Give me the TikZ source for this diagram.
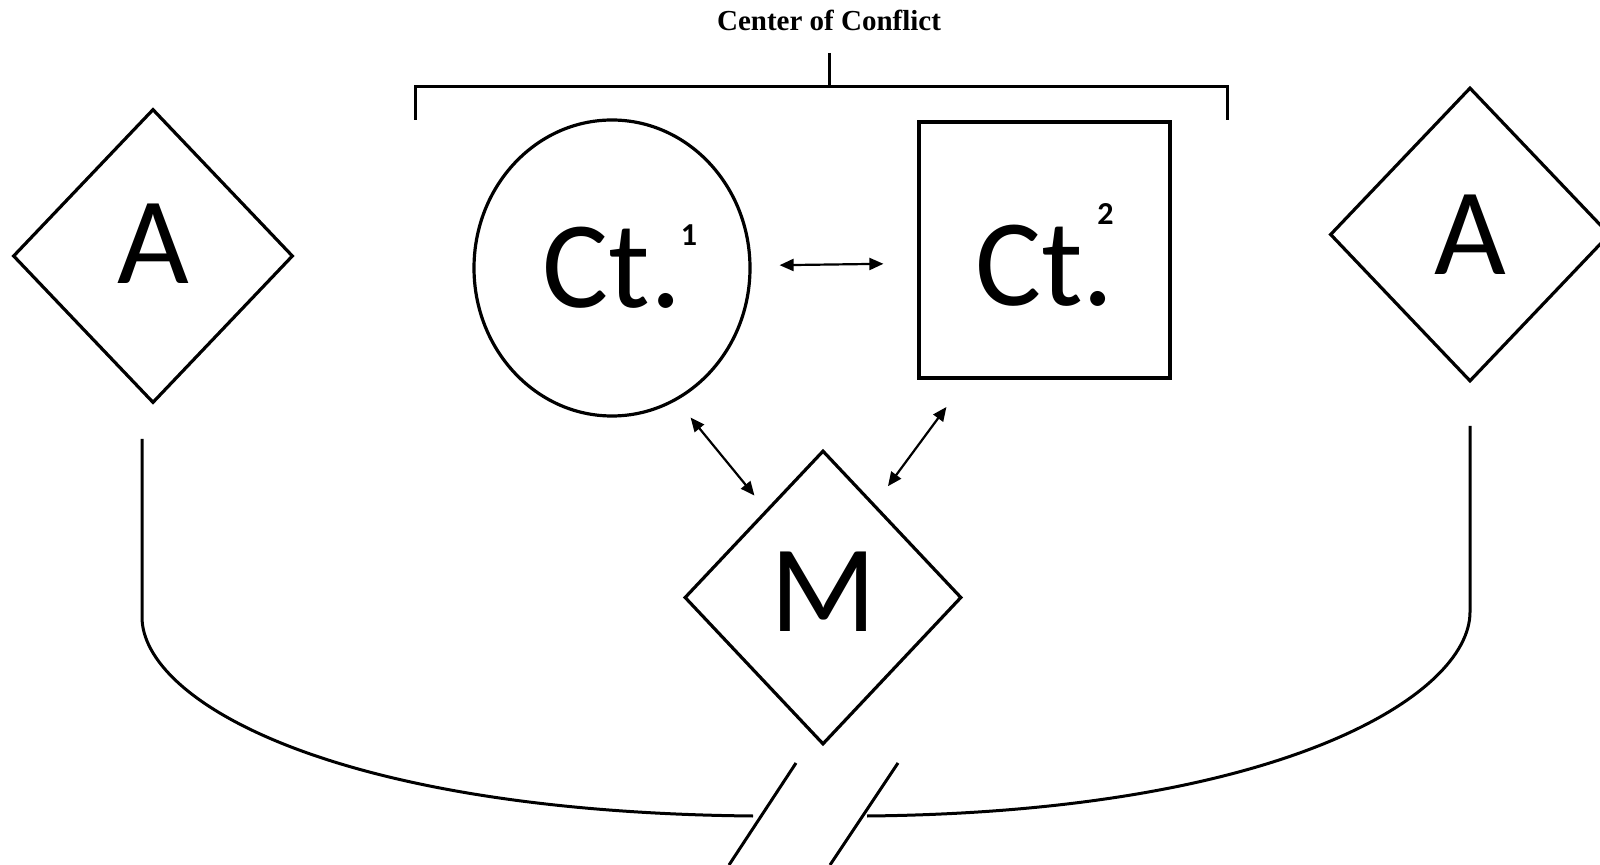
\documentclass[tikz,border=0pt]{standalone}
\usepackage{fontspec}
\setmainfont{Liberation Serif}
\newfontfamily\calibfont{Carlito}
\usetikzlibrary{positioning, arrows.meta, shapes.geometric, calc}

\tikzset{
  figbox/.style={draw, line width=1.6pt, inner sep=0pt,
    font=\calibfont\fontsize{62}{62}\selectfont},
  diamondbox/.style={figbox, diamond, minimum width=140pt, minimum height=147pt},
  supnum/.style={inner sep=0pt, font=\calibfont\bfseries\fontsize{16}{16}\selectfont},
  twoway/.style={{Triangle[length=7pt,width=6pt]}-{Triangle[length=7pt,width=6pt]}, line width=1.1pt},
  frame/.style={line width=1.5pt},
}

\begin{document}
\begin{tikzpicture}[x=0.5pt, y=-0.5pt]
    \useasboundingbox (0,0) rectangle (1600,865);
    \node (title) at (829,20) {\fontsize{14.5}{16}\selectfont\bfseries Center of Conflict};

    % bracket over the two parties
    \coordinate (brl) at (415,120);
    \coordinate (brr) at (1227,120);
    \coordinate (brtop) at (829,53);
    \draw[frame] (brl) |- (brr |- 0,87) -- (brr);
    \draw[frame] (brtop) -- (brtop |- 0,87);

    \node (aL) [diamondbox, text depth=12pt] at (153,256) {A};
    \node (aR) [diamondbox] at (1470,234.5) {A};
    \node (ct1) [figbox, ellipse, minimum width=138pt, minimum height=148pt] at (612,268) {Ct.};
    \node (ct2) [figbox, rectangle, minimum width=125.5pt, minimum height=128pt, text height=56pt] at (1044.5,250) {Ct.};
    \node (m) [diamondbox, minimum width=138.5pt, text depth=6pt] at (823,597.5) {M};

    \node (sup1) [supnum] at ($(ct1)+(77,-33)$) {1};
    \node (sup2) [supnum] at ($(ct2)+(61,-36)$) {2};

    \draw[twoway, shorten <=14pt, shorten >=17pt] (ct1.1) -- (ct2.186);
    \draw[twoway, shorten <=11pt, shorten >=9pt] (ct1.-64) -- (m.123);
    \draw[twoway, shorten <=17pt, shorten >=11pt] (ct2.-121) -- (m.61);

    % broken link between the two A's
    \coordinate (lt) at (142,439);
    \coordinate (lb) at (142,617);
    \coordinate (le) at (753,816);
    \coordinate (rt) at (1470,426);
    \coordinate (rb) at (1470,612);
    \coordinate (re) at (867,816);
    \draw[frame] (lt) -- (lb) .. controls (142,700) and (330,812) .. (le);
    \draw[frame] (rt) -- (rb) .. controls (1470,695) and (1282,812) .. (re);
    \draw[frame] (796,763) -- (729,865);
    \draw[frame] (898,763) -- (830,865);
\end{tikzpicture}
\end{document}
